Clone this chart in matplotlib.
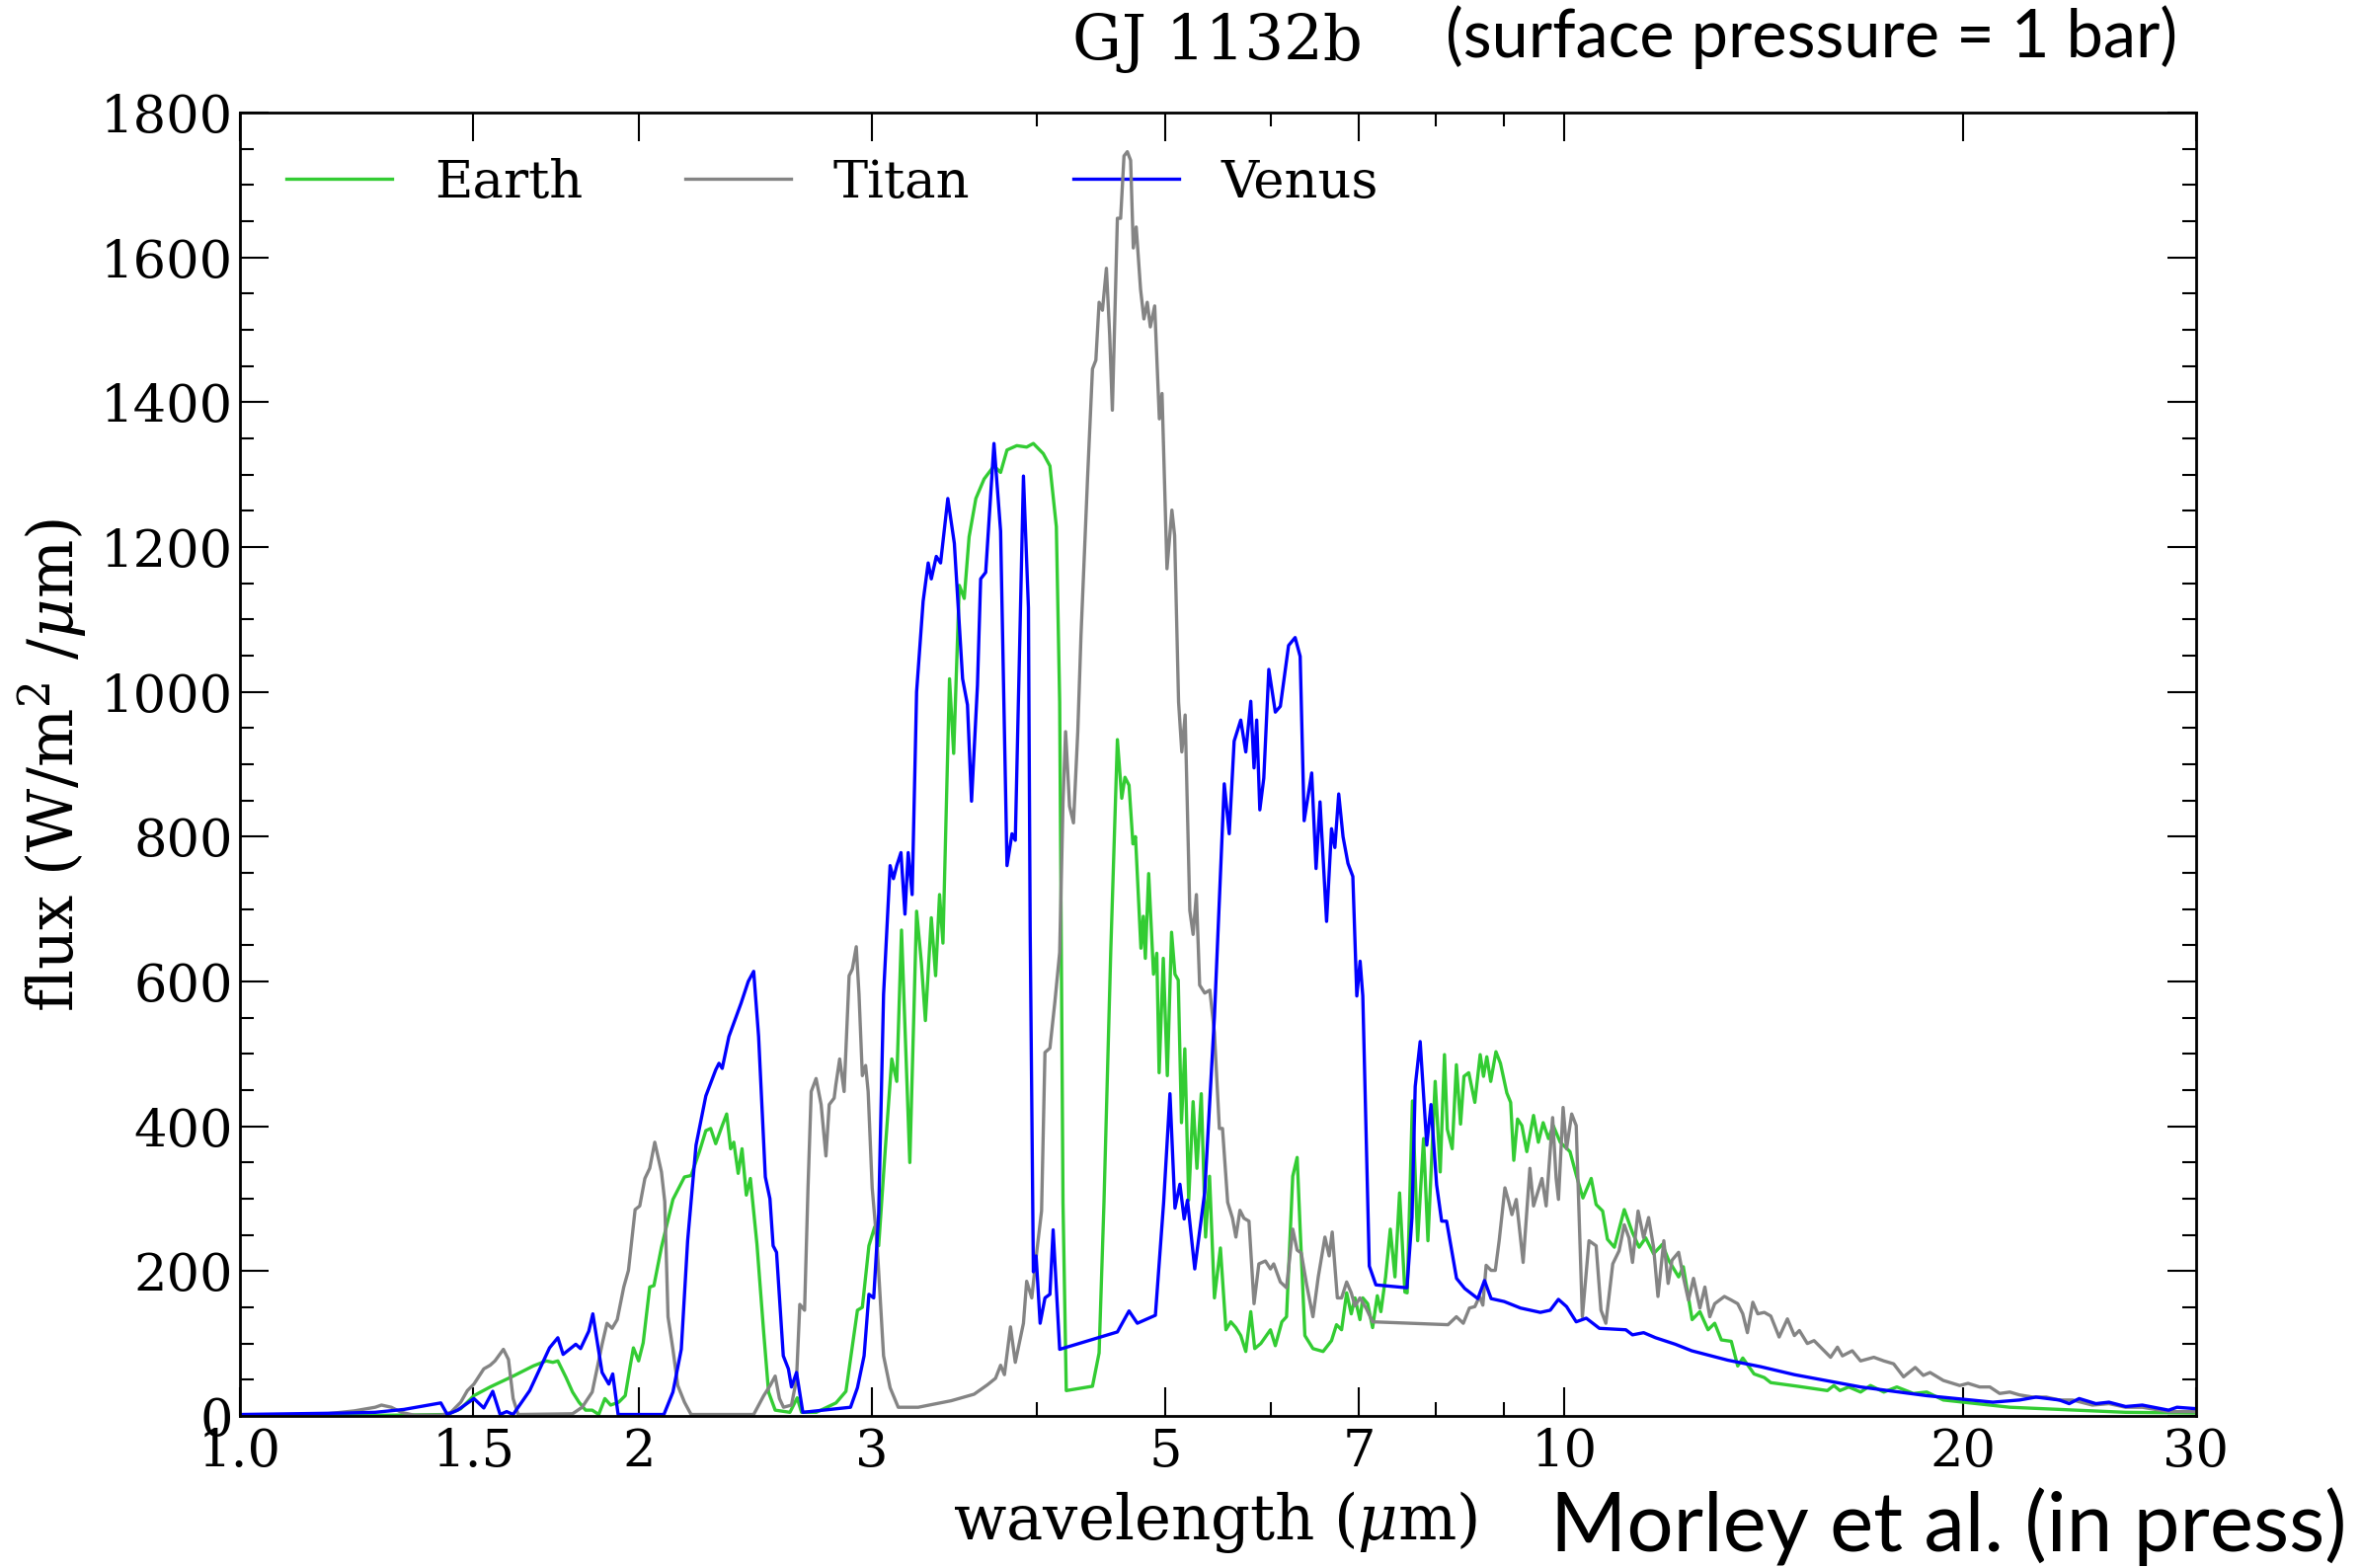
import numpy as np
import matplotlib
matplotlib.use("Agg")
import matplotlib.pyplot as plt
from matplotlib.ticker import FixedLocator, FixedFormatter, MultipleLocator, NullFormatter

plt.rcParams['font.family'] = 'DejaVu Serif'
plt.rcParams['mathtext.fontset'] = 'dejavuserif'

#Emergent spectra, (wavelength in um, flux in W/m2/um)
earth = [(1.0, 1), (1.3, 1), (1.434, 2), (1.468, 10), (1.502, 28), (1.545, 40), (1.608, 55),
         (1.665, 69), (1.703, 76), (1.723, 74), (1.738, 76), (1.763, 53), (1.783, 33), (1.803, 19),
         (1.824, 8), (1.845, 8), (1.866, 2), (1.886, 24), (1.905, 15), (1.932, 19), (1.954, 28),
         (1.971, 69), (1.982, 94), (2.000, 76), (2.016, 101), (2.039, 178), (2.054, 180), (2.081, 233),
         (2.123, 299), (2.166, 330), (2.191, 332), (2.223, 365), (2.248, 394), (2.267, 397),
         (2.287, 376), (2.313, 401), (2.331, 417), (2.347, 369), (2.360, 378), (2.378, 335),
         (2.394, 369), (2.412, 305), (2.429, 328), (2.457, 237), (2.486, 115), (2.507, 33),
         (2.536, 8), (2.602, 5), (2.635, 25), (2.655, 5), (2.724, 5), (2.819, 18), (2.868, 34),
         (2.926, 146), (2.951, 150), (2.985, 235), (3.015, 261), (3.036, 235), (3.071, 368),
         (3.106, 493), (3.133, 462), (3.159, 671), (3.205, 350), (3.243, 697), (3.270, 626),
         (3.293, 546), (3.327, 688), (3.352, 608), (3.375, 720), (3.395, 653), (3.434, 1018),
         (3.459, 915), (3.493, 1147), (3.523, 1129), (3.553, 1214), (3.595, 1267), (3.647, 1294),
         (3.710, 1312), (3.753, 1303), (3.795, 1334), (3.860, 1340), (3.927, 1338), (3.973, 1343),
         (4.042, 1329), (4.089, 1312), (4.135, 1228), (4.159, 986), (4.183, 295), (4.207, 35),
         (4.403, 41), (4.454, 87), (4.492, 295), (4.545, 640), (4.598, 934), (4.633, 853),
         (4.659, 882), (4.692, 871), (4.724, 790), (4.745, 800), (4.79, 646), (4.81, 690),
         (4.827, 632), (4.855, 749), (4.896, 610), (4.924, 639), (4.944, 474), (4.98, 632),
         (5.015, 470), (5.052, 668), (5.082, 610), (5.111, 602), (5.14, 405), (5.17, 507),
         (5.205, 298), (5.245, 434), (5.28, 342), (5.32, 445), (5.36, 247), (5.397, 331),
         (5.443, 163), (5.50, 232), (5.553, 119), (5.60, 130), (5.65, 122), (5.698, 111),
         (5.748, 89), (5.798, 144), (5.838, 93), (5.90, 100), (6.0, 119), (6.051, 97), (6.12, 130),
         (6.17, 137), (6.237, 331), (6.285, 357), (6.318, 258), (6.37, 111), (6.46, 93),
         (6.575, 89), (6.672, 104), (6.73, 126), (6.79, 119), (6.85, 170), (6.905, 141),
         (6.95, 163), (7.01, 133), (7.045, 163), (7.105, 155), (7.166, 122), (7.225, 166),
         (7.27, 144), (7.33, 192), (7.39, 258), (7.45, 192), (7.51, 308), (7.58, 171), (7.61, 170),
         (7.68, 435), (7.75, 242), (7.83, 383), (7.89, 242), (7.99, 462), (8.06, 337), (8.12, 499),
         (8.16, 396), (8.23, 369), (8.29, 485), (8.35, 403), (8.40, 469), (8.47, 474), (8.56, 433),
         (8.64, 499), (8.69, 469), (8.74, 496), (8.80, 462), (8.88, 503), (8.95, 487), (9.05, 446),
         (9.11, 433), (9.16, 353), (9.22, 410), (9.29, 401), (9.37, 365), (9.48, 415), (9.56, 378),
         (9.64, 405), (9.73, 383), (9.81, 401), (9.93, 378), (10.10, 365), (10.21, 333),
         (10.33, 301), (10.48, 328), (10.57, 292), (10.69, 283), (10.78, 244), (10.91, 233),
         (11.10, 285), (11.26, 253), (11.39, 233), (11.52, 246), (11.68, 224), (11.86, 237),
         (11.99, 215), (12.20, 192), (12.30, 206), (12.49, 133), (12.66, 144), (12.84, 119),
         (12.99, 128), (13.14, 105), (13.37, 103), (13.52, 69), (13.64, 80), (13.91, 58),
         (14.16, 53), (14.32, 46), (15.0, 41), (15.8, 35), (15.98, 42), (16.15, 35), (16.4, 40),
         (16.74, 33), (17.03, 42), (17.43, 33), (17.83, 40), (18.35, 31), (18.78, 33), (19.33, 22),
         (20.47, 17), (21.7, 12), (23.65, 9), (26.54, 5), (30.0, 4)]

titan = [(1.0, 1), (1.15, 2), (1.22, 7), (1.265, 12), (1.279, 15), (1.301, 12), (1.324, 5),
         (1.354, 1), (1.418, 1), (1.443, 5), (1.468, 19), (1.485, 35), (1.502, 44), (1.528, 65),
         (1.545, 70), (1.558, 76), (1.581, 92), (1.595, 78), (1.608, 24), (1.622, 2), (1.783, 3),
         (1.813, 12), (1.845, 33), (1.877, 99), (1.893, 128), (1.910, 121), (1.927, 133),
         (1.949, 178), (1.965, 201), (1.988, 285), (2.004, 290), (2.022, 328), (2.039, 342),
         (2.057, 378), (2.081, 337), (2.093, 296), (2.105, 137), (2.123, 92), (2.141, 42),
         (2.166, 19), (2.191, 2), (2.443, 2), (2.486, 28), (2.514, 42), (2.536, 55), (2.555, 24),
         (2.573, 12), (2.609, 15), (2.632, 51), (2.647, 154), (2.669, 146), (2.685, 315),
         (2.700, 448), (2.723, 466), (2.747, 430), (2.770, 359), (2.786, 430), (2.810, 439),
         (2.818, 457), (2.837, 493), (2.859, 448), (2.884, 608), (2.900, 617), (2.920, 648),
         (2.934, 582), (2.951, 470), (2.968, 484), (2.981, 448), (3.002, 315), (3.028, 235),
         (3.062, 83), (3.097, 39), (3.141, 12), (3.252, 12), (3.444, 21), (3.584, 30), (3.668, 43),
         (3.720, 52), (3.753, 70), (3.778, 57), (3.818, 123), (3.850, 74), (3.905, 128),
         (3.927, 186), (3.962, 163), (3.996, 226), (4.03, 283), (4.054, 502), (4.089, 508),
         (4.124, 571), (4.159, 640), (4.183, 847), (4.202, 945), (4.231, 842), (4.260, 819),
         (4.292, 945), (4.316, 1078), (4.341, 1187), (4.366, 1297), (4.403, 1446), (4.429, 1458),
         (4.454, 1538), (4.480, 1527), (4.511, 1585), (4.537, 1492), (4.558, 1389), (4.598, 1654),
         (4.624, 1654), (4.651, 1740), (4.678, 1746), (4.705, 1734), (4.727, 1613), (4.751, 1642),
         (4.787, 1556), (4.815, 1515), (4.843, 1538), (4.869, 1504), (4.906, 1533), (4.946, 1377),
         (4.969, 1412), (5.012, 1170), (5.055, 1251), (5.079, 1216), (5.114, 986), (5.143, 917),
         (5.173, 968), (5.215, 698), (5.245, 665), (5.275, 720), (5.305, 595), (5.352, 584),
         (5.40, 588), (5.443, 529), (5.49, 397), (5.52, 397), (5.57, 295), (5.617, 273),
         (5.65, 247), (5.69, 284), (5.73, 273), (5.78, 269), (5.831, 155), (5.88, 210),
         (5.948, 214), (6.0, 203), (6.034, 210), (6.104, 185), (6.17, 177), (6.237, 258),
         (6.285, 229), (6.33, 225), (6.39, 181), (6.46, 137), (6.52, 192), (6.596, 247),
         (6.645, 221), (6.68, 254), (6.74, 163), (6.79, 163), (6.85, 185), (6.905, 170),
         (6.95, 152), (7.01, 163), (7.09, 148), (7.166, 130), (8.17, 126), (8.29, 137), (8.39, 128),
         (8.48, 149), (8.56, 151), (8.63, 165), (8.68, 153), (8.73, 208), (8.806, 201), (8.87, 201),
         (8.93, 242), (9.02, 315), (9.08, 296), (9.13, 278), (9.20, 299), (9.31, 212), (9.42, 342),
         (9.48, 290), (9.62, 328), (9.69, 290), (9.80, 412), (9.86, 328), (9.90, 299), (9.98, 426),
         (10.04, 369), (10.13, 417), (10.21, 401), (10.32, 137), (10.44, 242), (10.57, 235),
         (10.66, 146), (10.75, 128), (10.88, 210), (11.0, 228), (11.10, 264), (11.19, 246),
         (11.26, 212), (11.37, 283), (11.48, 246), (11.58, 274), (11.68, 233), (11.77, 165),
         (11.89, 242), (11.98, 183), (12.06, 215), (12.20, 226), (12.30, 192), (12.41, 160),
         (12.52, 190), (12.66, 149), (12.77, 178), (12.88, 137), (12.99, 155), (13.21, 165),
         (13.37, 160), (13.52, 155), (13.64, 141), (13.75, 115), (13.88, 157), (14.00, 141),
         (14.16, 143), (14.32, 138), (14.53, 109), (14.74, 134), (14.92, 111), (15.05, 118),
         (15.26, 100), (15.44, 104), (15.71, 90), (15.89, 81), (16.08, 95), (16.22, 83),
         (16.50, 90), (16.74, 76), (17.13, 81), (17.43, 76), (17.73, 72), (18.04, 54), (18.41, 67),
         (18.67, 56), (18.89, 60), (19.33, 49), (19.89, 42), (20.18, 45), (20.59, 40), (20.96, 40),
         (21.32, 31), (21.70, 33), (22.07, 29), (22.59, 26), (23.12, 26), (23.65, 22), (24.2, 22),
         (25.05, 15), (25.78, 17), (26.54, 12), (27.32, 12), (28.6, 6), (30.0, 6)]

venus = [(1.0, 2), (1.1, 3), (1.2, 4), (1.265, 5), (1.33, 9), (1.418, 18), (1.434, 2), (1.46, 8),
         (1.502, 24), (1.528, 11), (1.552, 34), (1.572, 2), (1.590, 6), (1.608, 2), (1.655, 35),
         (1.713, 94), (1.738, 108), (1.754, 85), (1.793, 99), (1.808, 93), (1.834, 117),
         (1.847, 141), (1.877, 60), (1.899, 44), (1.912, 58), (1.930, 2), (2.09, 2), (2.123, 33),
         (2.154, 92), (2.178, 242), (2.210, 374), (2.248, 442), (2.287, 478), (2.300, 487),
         (2.313, 480), (2.340, 524), (2.39, 570), (2.42, 600), (2.443, 614), (2.464, 524),
         (2.493, 330), (2.513, 300), (2.527, 235), (2.542, 226), (2.572, 83), (2.595, 65),
         (2.609, 40), (2.632, 60), (2.661, 5), (2.891, 12), (2.926, 39), (2.960, 83), (2.985, 168),
         (3.010, 163), (3.036, 279), (3.062, 582), (3.097, 760), (3.115, 742), (3.133, 760),
         (3.156, 778), (3.178, 693), (3.196, 778), (3.218, 720), (3.243, 1000), (3.280, 1125),
         (3.309, 1178), (3.327, 1156), (3.356, 1187), (3.381, 1178), (3.424, 1267), (3.463, 1205),
         (3.513, 1018), (3.543, 982), (3.568, 849), (3.605, 1009), (3.625, 1156), (3.657, 1165),
         (3.710, 1343), (3.753, 1222), (3.795, 760), (3.828, 804), (3.850, 795), (3.905, 1298),
         (3.939, 1116), (3.951, 671), (3.973, 199), (3.992, 221), (4.020, 128), (4.054, 163),
         (4.089, 168), (4.112, 257), (4.159, 92), (4.598, 116), (4.692, 145), (4.760, 128),
         (4.829, 133), (4.912, 139), (4.983, 295), (5.038, 445), (5.082, 287), (5.126, 320),
         (5.164, 272), (5.194, 298), (5.260, 203), (5.352, 309), (5.443, 551), (5.537, 873),
         (5.585, 804), (5.633, 932), (5.698, 961), (5.748, 917), (5.798, 987), (5.831, 895),
         (5.858, 961), (5.890, 837), (5.931, 881), (5.983, 1031), (6.051, 972), (6.104, 980),
         (6.192, 1064), (6.263, 1075), (6.318, 1049), (6.362, 822), (6.446, 888), (6.495, 756),
         (6.540, 848), (6.615, 683), (6.672, 811), (6.711, 785), (6.756, 859), (6.807, 800),
         (6.866, 763), (6.924, 745), (6.972, 580), (7.012, 628), (7.045, 580), (7.125, 207),
         (7.207, 181), (7.607, 177), (7.674, 274), (7.717, 455), (7.784, 517), (7.874, 374),
         (7.932, 430), (8.010, 319), (8.080, 269), (8.150, 269), (8.292, 190), (8.411, 176),
         (8.605, 162), (8.705, 187), (8.806, 162), (9.008, 158), (9.268, 149), (9.592, 143),
         (9.759, 146), (9.899, 161), (10.04, 151), (10.21, 130), (10.39, 135), (10.63, 121),
         (11.13, 119), (11.26, 112), (11.48, 115), (11.72, 108), (12.13, 99), (12.48, 90),
         (13.29, 77), (14.07, 68), (14.92, 57), (16.74, 40), (18.78, 28), (21.07, 19), (22.07, 22),
         (22.71, 26), (23.65, 22), (24.06, 17), (24.48, 24), (25.20, 17), (25.78, 19), (26.54, 13),
         (27.32, 15), (28.60, 8), (29.02, 12), (30.0, 10)]

xticks = [1.0, 1.5, 2, 3, 5, 7, 10, 20, 30]
xticklabels = ["1.0", "1.5", "2", "3", "5", "7", "10", "20", "30"]
xminor = [4, 6, 8, 9]

fig = plt.figure(figsize=(23.92, 15.88), dpi=100)
ax = fig.add_axes([243/2392, 154/1588, 1981/2392, 1320/1588])

for data, col, lab in [(earth, "#33cc33", "Earth"), (titan, "#848484", "Titan"), (venus, "#0000ff", "Venus")]:
    wl, fl = zip(*data)
    ax.plot(wl, fl, color=col, lw=2.4, label=lab)

ax.set_xscale('log')
ax.set_xlim(1, 30)
ax.set_ylim(0, 1800)
ax.xaxis.set_major_locator(FixedLocator(xticks))
ax.xaxis.set_major_formatter(FixedFormatter(xticklabels))
ax.xaxis.set_minor_locator(FixedLocator(xminor))
ax.xaxis.set_minor_formatter(NullFormatter())
ax.yaxis.set_major_locator(MultipleLocator(200))
ax.yaxis.set_minor_locator(MultipleLocator(50))

ax.tick_params(which='both', direction='in', top=True, right=True, width=1.5)
ax.tick_params(which='major', length=21, labelsize=38)
ax.tick_params(which='minor', length=10)
ax.tick_params(axis='x', pad=8)
ax.tick_params(axis='y', pad=5)
for s in ax.spines.values():
    s.set_linewidth(2)

leg = ax.legend(loc='center left', bbox_to_anchor=(0.0237, 0.946), ncol=3, frameon=False,
                fontsize=38, handlelength=2.03, handletextpad=0.81, columnspacing=1.97,
                borderpad=0, borderaxespad=0)
leg.set_zorder(1)

fig.text(1231/2392, 0.018, r"wavelength ($\mu$m)", ha='center', va='baseline', fontsize=45)
fig.text(0.0223, 0.512, r"flux (W/m$^2$ /$\mu$m)", ha='center', va='center', rotation=90, fontsize=45)
fig.text(0.454, 0.9616, "GJ 1132b", ha='left', va='baseline', fontsize=45)
fig.text(0.612, 0.9635, "(surface pressure = 1 bar)", ha='left', va='baseline', fontsize=48,
         family=['Lato', 'DejaVu Sans'])
fig.text(0.9937, 0.011, "Morley et al. (in press)", ha='right', va='baseline', fontsize=60,
         family=['Lato', 'DejaVu Sans'])

fig.savefig("out.png", dpi=100)
